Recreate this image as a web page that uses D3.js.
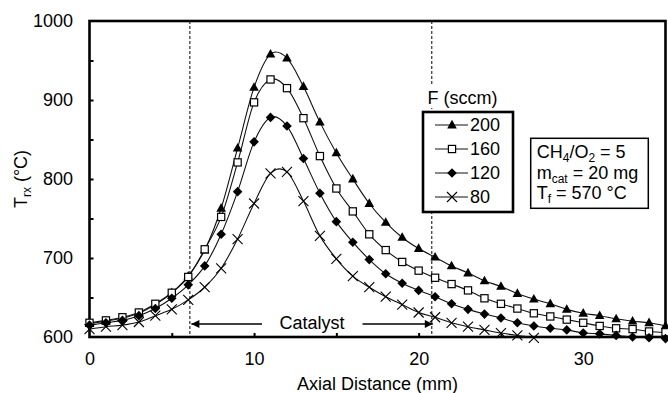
<!DOCTYPE html>
<html><head><meta charset="utf-8">
<script src="https://cdn.jsdelivr.net/npm/d3@7"></script>
<style>
body{margin:0;background:#fff}
text{font-family:"Liberation Sans",Arial,sans-serif;fill:#000}
</style>
</head><body>
<svg id="chart" width="668" height="393"></svg>
<script>
// ---- data ----
const distance = [0,1,2,3,4,5,6,7,8,9,10,11,12,13,14,15,16,17,18,19,20,21,22,23,24,25,26,27,28,29,30,31,32,33,34,35];
const t200 = [617,620,624,630,641,656,677,710,763,839,916,958,953,917,872,833,800,769,745,726,712,701,690,681,671,664,655,648,642,635,630,627,623,620,618,614];
const t160 = [618,621,625,631,642,656,676,711,752,821,897,926,915,877,829,788,759,730,710,695,684,675,667,659,649,642,636,630,626,622,618,614,611,610,607,606];
const t120 = [615,618,621,627,636,649,666,690,730,784,847,878,867,826,782,746,720,698,680,668,659,651,642,635,629,624,618,614,611,609,605,604,602,600,599,598];
const t80  = [610,613,615,619,627,635,647,663,687,724,769,807,809,772,728,699,677,663,651,641,631,625,618,613,609,605,602,599];
const seriesLabels = ["200","160","120","80"];
const seriesValues = [t200, t160, t120, t80];
const markerKinds = ["triangle","square","diamond","cross"];
const xTickValues = [0,5,10,15,20,25,30,35];
const xTickLabels = [0,10,20,30];
const yTickValues = [600,650,700,750,800,850,900,950,1000];
const yTickLabels = [600,700,800,900,1000];
const catalystBounds = [6.1, 20.8];
const legendTitle = "F (sccm)";

// ---- layout ----
const svg = d3.select("#chart");
const P = {l:89.5, r:665.5, t:21, b:337};
const x = d3.scaleLinear().domain([0,35]).range([P.l,P.r]);
const y = d3.scaleLinear().domain([600,1000]).range([P.b,P.t]);
const FONT = 18;

svg.append("defs").append("clipPath").attr("id","clip")
  .append("rect").attr("x",P.l).attr("y",P.t).attr("width",P.r-P.l).attr("height",P.b-P.t);

// catalyst dashed lines
svg.selectAll(".cat").data(catalystBounds).enter().append("line")
  .attr("x1",d=>x(d)).attr("x2",d=>x(d)).attr("y1",P.t).attr("y2",P.b)
  .attr("stroke","#000").attr("stroke-width",1).attr("stroke-dasharray","3,2");

// axes
const xAxis = d3.axisBottom(x).tickValues(xTickValues).tickSizeInner(-4).tickSizeOuter(0).tickPadding(15)
  .tickFormat(d=>xTickLabels.includes(d)?d:"");
const gx = svg.append("g").attr("transform",`translate(0,${P.b})`).call(xAxis);
const yAxis = d3.axisLeft(y).tickValues(yTickValues).tickSizeInner(-4).tickSizeOuter(0).tickPadding(16.5)
  .tickFormat(d=>yTickLabels.includes(d)?d:"");
const gy = svg.append("g").attr("transform",`translate(${P.l},0)`).call(yAxis);
[gx,gy].forEach(g=>{
  g.select(".domain").remove();
  g.selectAll(".tick line").attr("stroke","#000").attr("stroke-width",2);
  g.selectAll(".tick text").attr("font-size",FONT).attr("font-family","Liberation Sans, Arial, sans-serif").attr("fill","#000");
});
// hide the ticks at the ends that coincide with the border
gx.selectAll(".tick").filter(d=>d===0||d===35).select("line").remove();
gy.selectAll(".tick").filter(d=>d===600||d===1000).select("line").remove();

// plot border
svg.append("rect").attr("x",P.l).attr("y",P.t).attr("width",P.r-P.l).attr("height",P.b-P.t)
  .attr("fill","none").attr("stroke","#000").attr("stroke-width",2.6);

// axis titles
svg.append("text").attr("x",(P.l+P.r)/2).attr("y",389.5).attr("text-anchor","middle")
  .attr("font-size",FONT).text("Axial Distance (mm)");
const yt = svg.append("text").attr("transform",`translate(27,${(P.t+P.b)/2}) rotate(-90)`)
  .attr("text-anchor","middle").attr("font-size",FONT);
yt.append("tspan").text("T");
yt.append("tspan").attr("font-size",12).attr("dy",4).text("rx");
yt.append("tspan").attr("dy",-4).text(" (°C)");

// marker drawing
function drawMarker(g, kind){
  if(kind==="triangle"){
    g.append("path").attr("d","M0,-5.2L4.8,3.4L-4.8,3.4Z").attr("fill","#000");
  } else if(kind==="square"){
    g.append("rect").attr("x",-3.6).attr("y",-3.6).attr("width",7.2).attr("height",7.2)
      .attr("fill","#fff").attr("stroke","#000").attr("stroke-width",1.2);
  } else if(kind==="diamond"){
    g.append("path").attr("d","M0,-4.8L4.8,0L0,4.8L-4.8,0Z").attr("fill","#000");
  } else {
    g.append("path").attr("d","M-5,-5L5,5M-5,5L5,-5").attr("stroke","#000").attr("stroke-width",1.1).attr("fill","none");
  }
}

const line = d3.line().x(d=>x(d[0])).y(d=>y(d[1])).curve(d3.curveCardinal.tension(0));
seriesValues.forEach((vals,i)=>{
  const pts = vals.map((v,j)=>[distance[j],v]);
  svg.append("path").datum(pts).attr("d",line).attr("fill","none")
    .attr("stroke","#111").attr("stroke-width",1.1).attr("clip-path","url(#clip)");
  const g = svg.append("g");
  g.selectAll("g").data(pts).enter().append("g")
    .attr("transform",d=>`translate(${x(d[0])},${y(d[1])})`)
    .each(function(){ drawMarker(d3.select(this), markerKinds[i]); });
});

// catalyst annotation
const arrowY = 324;
svg.append("defs").append("marker").attr("id","ah").attr("viewBox","0 0 10 10")
  .attr("refX",10).attr("refY",5).attr("markerWidth",10).attr("markerHeight",8)
  .attr("markerUnits","userSpaceOnUse").attr("orient","auto")
  .append("path").attr("d","M0,0L10,5L0,10Z").attr("fill","#000");
svg.append("line").attr("x1",262).attr("x2",x(catalystBounds[0])+1.5).attr("y1",arrowY).attr("y2",arrowY)
  .attr("stroke","#000").attr("stroke-width",1.5).attr("marker-end","url(#ah)");
svg.append("line").attr("x1",362.5).attr("x2",x(catalystBounds[1])+1).attr("y1",arrowY).attr("y2",arrowY)
  .attr("stroke","#000").attr("stroke-width",1.5).attr("marker-end","url(#ah)");
svg.append("text").attr("x",312).attr("y",328.5).attr("text-anchor","middle").attr("font-size",FONT).text("Catalyst");

// legend
const L = {x:423, y:112, w:90, h:100};
svg.append("rect").attr("x",L.x+2).attr("y",86).attr("width",L.w-14).attr("height",22).attr("fill","#fff");
svg.append("text").attr("x",462.5).attr("y",103.5).attr("text-anchor","middle").attr("font-size",FONT).text(legendTitle);
svg.append("rect").attr("x",L.x).attr("y",L.y).attr("width",L.w).attr("height",L.h)
  .attr("fill","#fff").attr("stroke","#000").attr("stroke-width",2.6);
seriesLabels.forEach((lab,i)=>{
  const cy = 125 + i*24;
  svg.append("line").attr("x1",435).attr("x2",468).attr("y1",cy).attr("y2",cy).attr("stroke","#111").attr("stroke-width",1.1);
  const g = svg.append("g").attr("transform",`translate(452,${cy})`);
  drawMarker(g, markerKinds[i]);
  svg.append("text").attr("x",470).attr("y",cy).attr("dy","0.35em").attr("font-size",FONT).text(lab);
});

// conditions box
svg.append("rect").attr("x",530.7).attr("y",138.3).attr("width",117.6).attr("height",70)
  .attr("fill","#fff").attr("stroke","#000").attr("stroke-width",1.5);
const c1 = svg.append("text").attr("x",536.7).attr("y",158).attr("font-size",FONT);
c1.append("tspan").text("CH");
c1.append("tspan").attr("font-size",12).attr("dy",4).text("4");
c1.append("tspan").attr("dy",-4).text("/O");
c1.append("tspan").attr("font-size",12).attr("dy",4).text("2");
c1.append("tspan").attr("dy",-4).text(" = 5");
const c2 = svg.append("text").attr("x",536.7).attr("y",179).attr("font-size",FONT);
c2.append("tspan").text("m");
c2.append("tspan").attr("font-size",12).attr("dy",4).text("cat");
c2.append("tspan").attr("dy",-4).text(" = 20 mg");
const c3 = svg.append("text").attr("x",536.7).attr("y",198.5).attr("font-size",FONT);
c3.append("tspan").text("T");
c3.append("tspan").attr("font-size",12).attr("dy",4).text("f");
c3.append("tspan").attr("dy",-4).text(" = 570 °C");
</script>
</body></html>
